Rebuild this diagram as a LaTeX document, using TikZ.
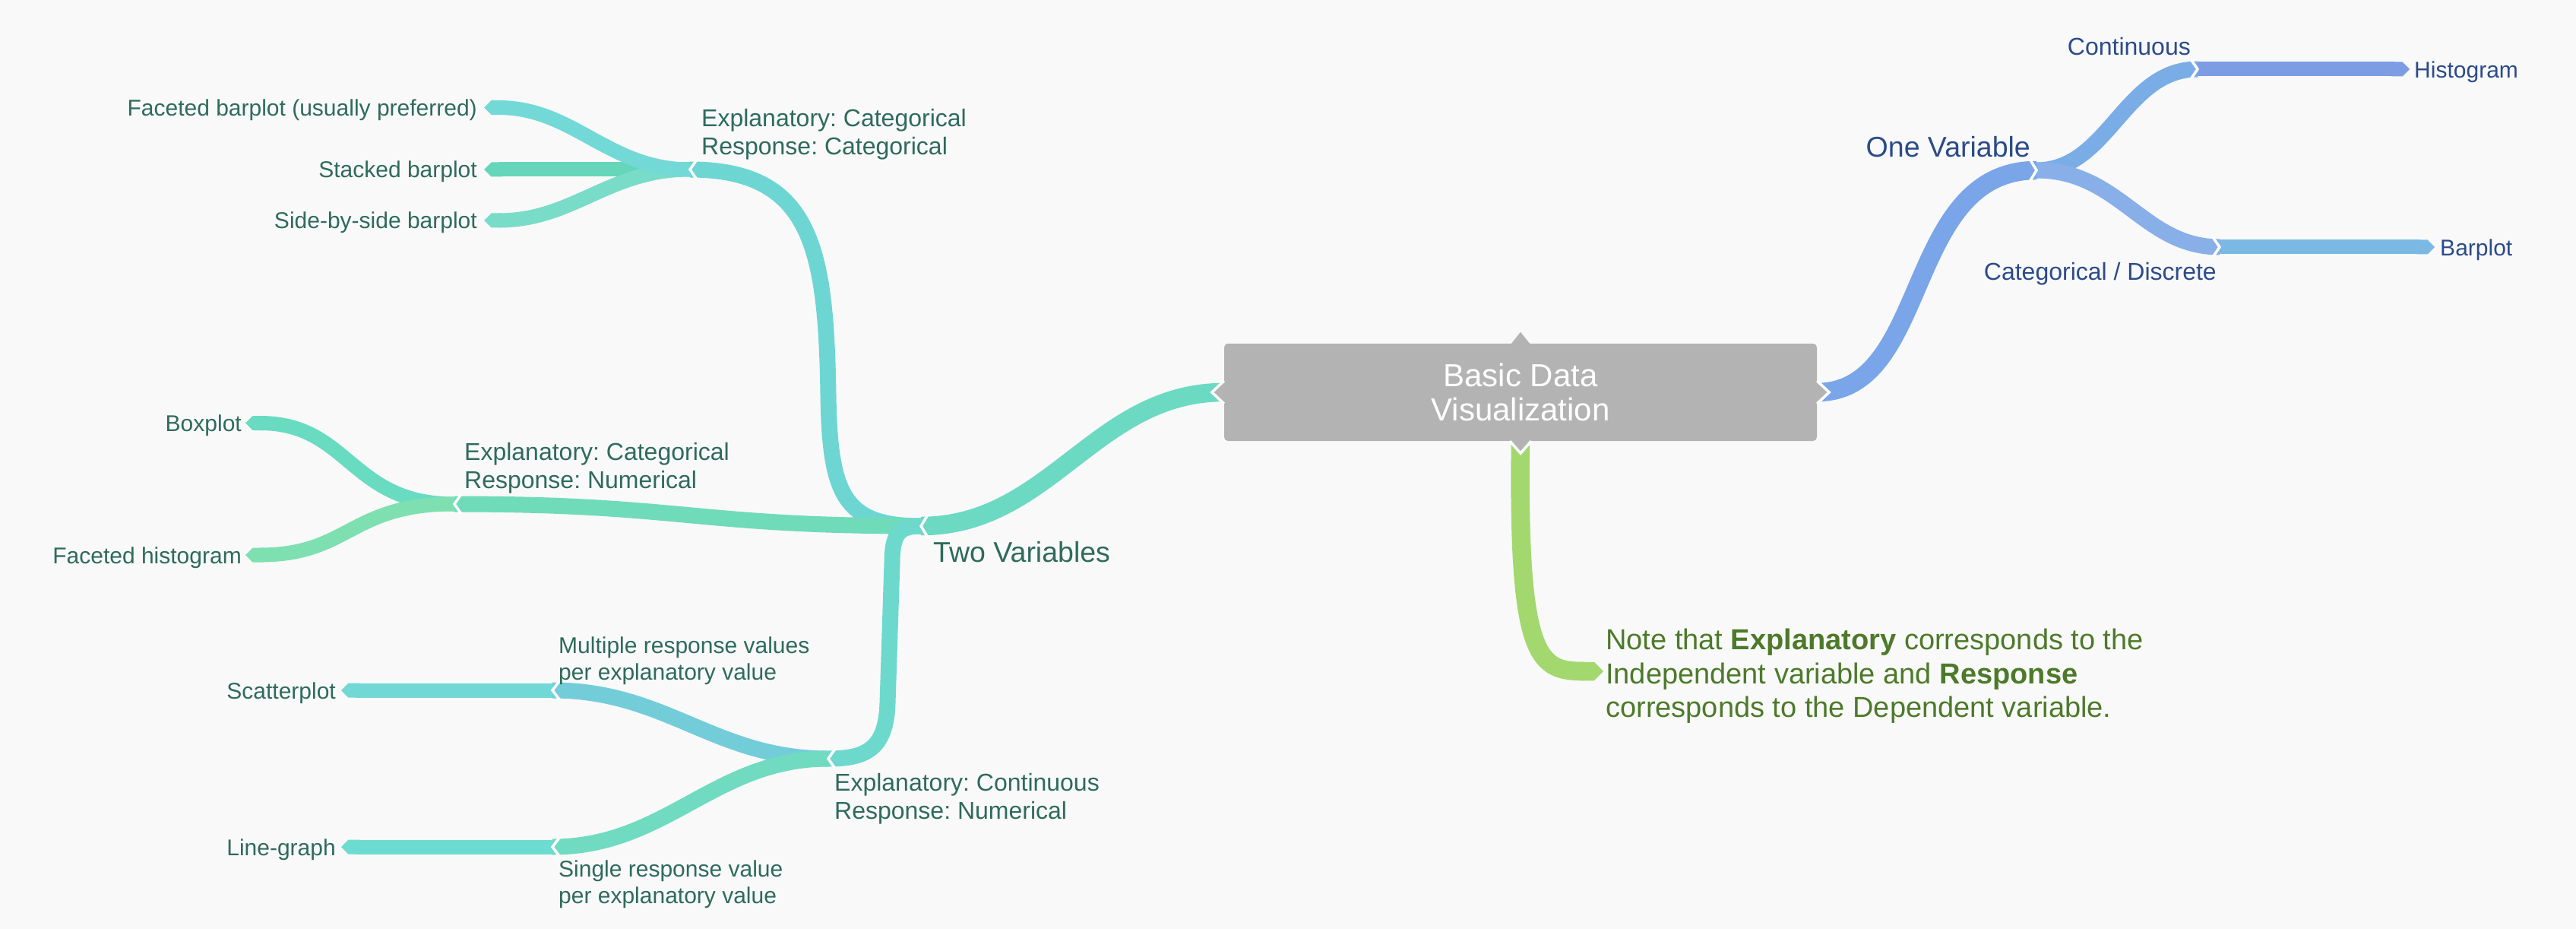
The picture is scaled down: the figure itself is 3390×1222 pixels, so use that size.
\documentclass[tikz,border=0pt]{standalone}
\usepackage{fontspec}
\setmainfont{Liberation Sans}
\usetikzlibrary{arrows.meta}
\frenchspacing
\definecolor{bg}{HTML}{F9F9F9}
\definecolor{boxgray}{HTML}{B3B3B3}
\definecolor{cTwo}{HTML}{6CD9C3}
\definecolor{cJone}{HTML}{6DD6D3}
\definecolor{cFb}{HTML}{73D9D6}
\definecolor{cSb}{HTML}{65D6BA}
\definecolor{cSs}{HTML}{79DCC9}
\definecolor{cJtwo}{HTML}{6FDBB9}
\definecolor{cBx}{HTML}{68DBC1}
\definecolor{cFh}{HTML}{7EE0B1}
\definecolor{cJthree}{HTML}{6DD9CD}
\definecolor{cMu}{HTML}{73CDD9}
\definecolor{cSi}{HTML}{70DBC0}
\definecolor{cSc}{HTML}{72D8D6}
\definecolor{cLg}{HTML}{6CDCD1}
\definecolor{cOne}{HTML}{7AA5E8}
\definecolor{cCo}{HTML}{7AADE6}
\definecolor{cHi}{HTML}{7C9DE4}
\definecolor{cCa}{HTML}{88AFE8}
\definecolor{cBp}{HTML}{7BB9E4}
\definecolor{cNote}{HTML}{A2D86E}
\definecolor{txtL}{HTML}{2E6B5B}
\definecolor{txtR}{HTML}{2B4B8A}
\definecolor{txtN}{HTML}{4D7A2A}
\newcommand\fRoot{\fontsize{42}{45}\selectfont}
\newcommand\fMain{\fontsize{37.5}{44}\selectfont}
\newcommand\fSub{\fontsize{32}{37.5}\selectfont}
\newcommand\fLeaf{\fontsize{30}{35}\selectfont}
\newcommand\fNote{\fontsize{38}{44.5}\selectfont}
\tikzset{
  lvone/.style={line width=24.5pt},
  lvtwo/.style={line width=21pt},
  lvleaf/.style={line width=19pt},
  tipend/.style={-{Triangle Cap}},
  sepline/.style={draw=white, line width=3.5pt, line cap=butt, line join=miter},
  ltext/.style={text=txtL, inner sep=0pt, align=left},
  rtext/.style={text=txtR, inner sep=0pt, align=left},
  rootbox/.style={fill=boxgray, rounded corners=5pt, minimum width=780pt, minimum height=128pt, inner sep=0pt, text=white, align=center, font=\fRoot},
}
\newcommand\sepL[2]{\draw[sepline] (#1) ++(9,-#2) -- ++(-9,#2) -- ++(9,#2);}
\newcommand\sepR[2]{\draw[sepline] (#1) ++(-9,-#2) -- ++(9,#2) -- ++(-9,#2);}
\begin{document}
\begin{tikzpicture}[x=1pt,y=-1pt]
\fill[bg] (0,0) rectangle (3390,1222);
\useasboundingbox (0,0) rectangle (3390,1222);

\node[rootbox] (root) at (2001,516) {Basic Data\\Visualization};

% junction coordinates
\coordinate (T) at (1212,692);
\coordinate (J1) at (908,223);
\coordinate (J2) at (598,663);
\coordinate (J3) at (1090,998);
\coordinate (M3) at (727,908);
\coordinate (S3) at (727,1114);
\coordinate (OV) at (2680,224);
\coordinate (CN) at (2892,91);
\coordinate (CD) at (2921,325);
\coordinate (NT) at (2110,883);
% leaf tips
\coordinate (fbt) at (637,141.5);
\coordinate (sbt) at (637,223);
\coordinate (sst) at (637,290);
\coordinate (bxt) at (323,556.5);
\coordinate (fht) at (323,730);
\coordinate (sct) at (449,908);
\coordinate (lgt) at (449,1114);
\coordinate (hgt) at (3171,91);
\coordinate (bpt) at (3204,325);

% level one
\draw[lvone, cTwo] (root.west) .. controls +(-170,0) and +(170,0) .. (T);
\draw[lvone, cOne] (root.east) .. controls +(150,0) and +(-175,0) .. (OV);
\draw[lvone, cNote, tipend] (root.south) .. controls +(-4,290) and +(-85,0) .. (NT);

% left level two
\draw[lvtwo, cJone] (T) .. controls (1110,692) and (1092,650) .. (1090,520) .. controls (1087,330) and (1070,223) .. (J1);
\draw[lvtwo, cJtwo] (T) .. controls (912,692) and (898,663) .. (J2);
\draw[lvtwo, cJthree] (T) .. controls (1185,692) and (1174,700) .. (1174,740) -- (1168,925) .. controls (1166,985) and (1140,998) .. (J3);

% leaves of J1
\draw[lvleaf, cSb, tipend] (J1) -- (sbt);
\draw[lvleaf, cSs, tipend] (J1) .. controls (800,223) and (755,290) .. (sst);
\draw[lvleaf, cFb, tipend] (J1) .. controls (800,223) and (755,141.5) .. (fbt);
% leaves of J2
\draw[lvleaf, cBx, tipend] (J2) .. controls (460,663) and (460,556.5) .. (bxt);
\draw[lvleaf, cFh, tipend] (J2) .. controls (460,663) and (460,730) .. (fht);
% J3 branches
\draw[lvtwo, cMu] (J3) .. controls (940,998) and (877,908) .. (M3);
\draw[lvtwo, cSi] (J3) .. controls (940,998) and (877,1114) .. (S3);
\draw[lvleaf, cSc, tipend] (M3) -- (sct);
\draw[lvleaf, cLg, tipend] (S3) -- (lgt);

% right side
\draw[lvtwo, cCo] (OV) .. controls (2775,224) and (2795,91) .. (CN);
\draw[lvtwo, cCa] (OV) .. controls (2790,224) and (2820,325) .. (CD);
\draw[lvleaf, cHi, tipend] (CN) -- (hgt);
\draw[lvleaf, cBp, tipend] (CD) -- (bpt);

% separators
\sepL{T}{15}
\sepL{J1}{13}
\sepL{J2}{13}
\sepL{J3}{13}
\sepL{M3}{12}
\sepL{S3}{12}
\sepR{OV}{15}
\sepR{CN}{13}
\sepR{CD}{13}

% box chevrons
\fill[boxgray] (root.west) ++(0,-15) -- ++(-16,15) -- ++(16,15) -- cycle;
\draw[sepline] (root.west) ++(0,-15) -- ++(-16,15) -- ++(16,15);
\fill[boxgray] (root.east) ++(0,-15) -- ++(16,15) -- ++(-16,15) -- cycle;
\draw[sepline] (root.east) ++(0,-15) -- ++(16,15) -- ++(-16,15);
\fill[boxgray] (root.north) ++(-12,0) -- ++(12,-15) -- ++(12,15) -- cycle;
\fill[boxgray] (root.south) ++(-14,0) -- ++(14,16) -- ++(14,-16) -- cycle;
\draw[sepline] (root.south) ++(-14,0) -- ++(14,16) -- ++(14,-16);

% texts left
\node[ltext, font=\fSub, anchor=north west] (tJ1) at (923,143) {Explanatory: Categorical\\Response: Categorical};
\node[ltext, font=\fSub, anchor=north west] (tJ2) at (611,582) {Explanatory: Categorical\\Response: Numerical};
\node[ltext, font=\fMain, anchor=north west] (tT) at (1228,712) {Two Variables};
\node[ltext, font=\fSub, anchor=north west] (tJ3) at (1098,1017) {Explanatory: Continuous\\Response: Numerical};
\node[ltext, font=\fLeaf, anchor=north west] (tM3) at (735,838) {Multiple response values\\per explanatory value};
\node[ltext, font=\fLeaf, anchor=north west] (tS3) at (735,1132) {Single response value\\per explanatory value};
\node[ltext, font=\fLeaf, anchor=base east] (lfb) at (628,152.5) {Faceted barplot (usually preferred)};
\node[ltext, font=\fLeaf, anchor=base east] (lsb) at (628,234) {Stacked barplot};
\node[ltext, font=\fLeaf, anchor=base east] (lss) at (628,301) {Side-by-side barplot};
\node[ltext, font=\fLeaf, anchor=base east] (lbx) at (318,567.5) {Boxplot};
\node[ltext, font=\fLeaf, anchor=base east] (lfh) at (318,741) {Faceted histogram};
\node[ltext, font=\fLeaf, anchor=base east] (lsc) at (442,919) {Scatterplot};
\node[ltext, font=\fLeaf, anchor=base east] (llg) at (442,1125) {Line-graph};
% texts right
\node[rtext, font=\fMain, anchor=base east] (tOV) at (2672,207) {One Variable};
\node[rtext, font=\fSub, anchor=base east] (tCN) at (2883,73) {Continuous};
\node[rtext, font=\fSub, anchor=north east] (tCD) at (2917,345) {Categorical / Discrete};
\node[rtext, font=\fLeaf, anchor=base west] (lhg) at (3177,102.5) {Histogram};
\node[rtext, font=\fLeaf, anchor=base west] (lbp) at (3211,336.5) {Barplot};
% note
\node[text=txtN, inner sep=0pt, align=left, font=\fNote, anchor=north west] (note) at (2113,827) {Note that \textbf{Explanatory} corresponds to the\\Independent variable and \textbf{Response}\\corresponds to the Dependent variable.};
\end{tikzpicture}
\end{document}
